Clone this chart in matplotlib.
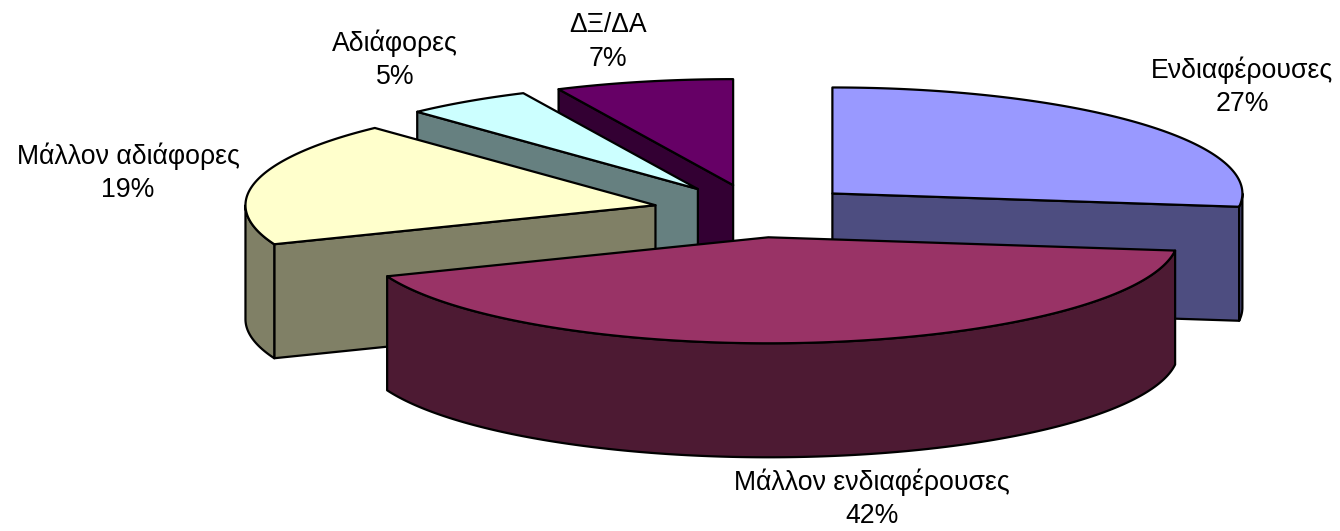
import matplotlib
matplotlib.use("Agg")
import matplotlib.pyplot as plt
import numpy as np
from matplotlib.patches import Polygon

plt.rcParams['font.family'] = ['Liberation Sans', 'DejaVu Sans']

# data, clockwise from 12 o'clock
labels = ["Ενδιαφέρουσες", "Μάλλον ενδιαφέρουσες", "Μάλλον αδιάφορες", "Αδιάφορες", "ΔΞ/ΔΑ"]
values = [27, 42, 19, 5, 7]

top_colors = ["#9999FF", "#993366", "#FFFFCC", "#CCFFFF", "#660066"]
wall_colors = ["#4D4D80", "#4D1A33", "#808066", "#668080", "#330033"]

# pie geometry in pixels
cx, cy = 755.5, 211
rx, ry = 410, 106
depth = 114
explode = 0.25
label_xy = [(1242, 87), (872, 499), (128, 173), (395, 60), (608, 42)]
draw_order = [4, 3, 2, 0, 1]

fig = plt.figure(figsize=(13.4, 5.31), dpi=100)
ax = fig.add_axes([0, 0, 1, 1])
ax.set_xlim(0, 1340)
ax.set_ylim(531, 0)
ax.axis("off")


def rim(a0, a1, x0, y0):
    # a0, a1 in degrees clockwise from the top
    t = np.radians(np.linspace(a0, a1, 200))
    return np.column_stack([x0 + rx * np.sin(t), y0 - ry * np.cos(t)])


def add_poly(pts, color, z):
    ax.add_patch(Polygon(pts, closed=True, facecolor=color, edgecolor="black",
                         linewidth=1.6, joinstyle="round", zorder=z))


edges = np.concatenate([[0], np.cumsum(values)]) / sum(values) * 360

for z, i in enumerate(draw_order):
    a0, a1 = edges[i], edges[i + 1]
    mid = np.radians((a0 + a1) / 2)
    x0 = cx + explode * rx * np.sin(mid)
    y0 = cy - explode * ry * np.cos(mid)
    arc = rim(a0, a1, x0, y0)
    apex = np.array([[x0, y0]])
    base = z * 10
    down = np.array([0, depth])

    # radial side faces, only draw the ones turned to the viewer
    if 180 < a0 < 360:
        p = rim(a0, a0, x0, y0)[:1]
        add_poly(np.vstack([apex, p, p + down, apex + down]), wall_colors[i], base + 1)
    if 0 < a1 < 180:
        p = rim(a1, a1, x0, y0)[:1]
        add_poly(np.vstack([apex, p, p + down, apex + down]), wall_colors[i], base + 1)

    # outer wall, lower half of the ellipse only
    lo, hi = max(a0, 90), min(a1, 270)
    if lo < hi:
        w = rim(lo, hi, x0, y0)
        add_poly(np.vstack([w, (w + down)[::-1]]), wall_colors[i], base + 2)

    add_poly(np.vstack([apex, arc]), top_colors[i], base + 3)

for name, v, (x, y) in zip(labels, values, label_xy):
    ax.text(x, y, f"{name}\n{v}%", ha="center", va="center", fontsize=19.2,
            linespacing=1.35, color="black", zorder=100)

fig.savefig("out.png", dpi=100)
